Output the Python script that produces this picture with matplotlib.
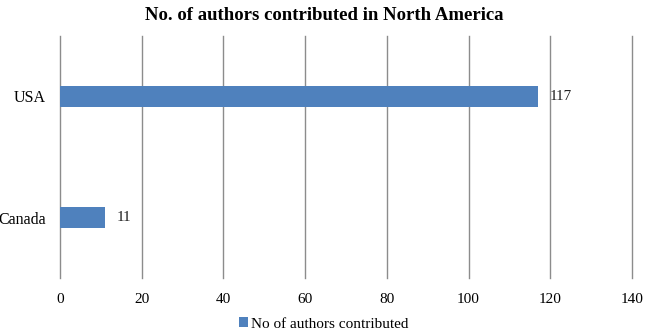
import matplotlib
matplotlib.use("Agg")
import matplotlib.pyplot as plt

categories = ["Canada", "USA"]
values = [11, 117]
xticks = [0, 20, 40, 60, 80, 100, 120, 140]
series_name = "No of authors contributed"
title = "No. of authors contributed in North America"

plt.rcParams['font.family'] = ['Liberation Serif', 'DejaVu Serif']

fig = plt.figure(figsize=(6.48, 3.34), dpi=100)
ax = fig.add_axes([60/648, 1-278/334, 572/648, 242/334])

ypos = list(range(len(categories)))
bars = ax.barh(ypos, values, height=0.167, color="#4F81BD", label=series_name, zorder=3)
for y, v in zip(ypos, values):
    ax.text(v + 2.8, y, str(v), va="center", ha="left", fontsize=11, color="#222222")

ax.set_xlim(0, 140)
ax.set_ylim(-0.5, 1.5)
ax.set_xticks(xticks)
ax.set_xticklabels([str(t) for t in xticks], fontsize=11)
ax.set_yticks(ypos)
ax.set_yticklabels(categories, fontsize=11.5)
ax.tick_params(axis='y', length=0, pad=10)
ax.tick_params(axis='x', length=0, pad=11)
ax.grid(axis='x', color="#8c8c8c", linewidth=1.0, zorder=0)
for gl in ax.get_xgridlines():
    gl.set_clip_on(False)
for s in ax.spines.values():
    s.set_visible(False)

fig.text(0.5, 1-16/334, title, ha="center", va="center", fontsize=13.5, fontweight="bold")
fig.legend(handles=[bars], labels=[series_name], loc="center", bbox_to_anchor=(0.5, 1-324/334),
           frameon=False, fontsize=11, handlelength=0.6, handleheight=0.6, handletextpad=0.2)

fig.savefig("out.png", dpi=100)
